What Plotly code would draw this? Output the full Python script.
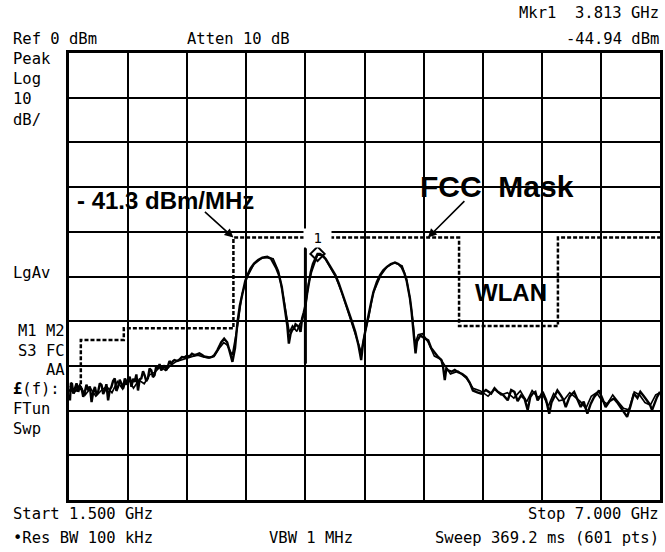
import plotly.graph_objects as go

# ---------------------------------------------------------------------------
# Swept spectrum 1.5 - 7.0 GHz, Ref 0 dBm, 10 dB/div
# ---------------------------------------------------------------------------
f_start, f_stop = 1.5, 7.0
ref_level, db_per_div = 0.0, 10.0

# Trace 1 (peak detector)
trace1_ghz = [
    1.500, 1.509, 1.518, 1.528, 1.540, 1.556, 1.570, 1.586, 1.600, 1.618,
    1.632, 1.648, 1.662, 1.679, 1.694, 1.710, 1.725, 1.741, 1.756, 1.771,
    1.787, 1.803, 1.818, 1.833, 1.848, 1.864, 1.880, 1.895, 1.910, 1.926,
    1.941, 1.956, 1.972, 1.988, 2.003, 2.019, 2.034, 2.049, 2.065, 2.081,
    2.096, 2.111, 2.127, 2.142, 2.158, 2.173, 2.189, 2.204, 2.219, 2.234,
    2.250, 2.266, 2.281, 2.296, 2.312, 2.327, 2.343, 2.358, 2.373, 2.389,
    2.404, 2.419, 2.435, 2.451, 2.466, 2.481, 2.505, 2.528, 2.551, 2.574,
    2.597, 2.620, 2.644, 2.667, 2.690, 2.713, 2.736, 2.759, 2.782, 2.806,
    2.829, 2.852, 2.880, 2.917, 2.944, 2.972, 3.000, 3.021, 3.045, 3.068,
    3.090, 3.114, 3.140, 3.160, 3.190, 3.222, 3.260, 3.299, 3.345, 3.380,
    3.407, 3.430, 3.454, 3.480, 3.500, 3.516, 3.531, 3.546, 3.562, 3.578,
    3.593, 3.608, 3.623, 3.640, 3.655, 3.669, 3.685, 3.701, 3.716, 3.731,
    3.750, 3.770, 3.792, 3.813, 3.835, 3.860, 3.889, 3.915, 3.945, 3.979,
    4.010, 4.040, 4.070, 4.102, 4.135, 4.164, 4.194, 4.219, 4.236, 4.256,
    4.270, 4.287, 4.310, 4.333, 4.365, 4.395, 4.425, 4.456, 4.495, 4.534,
    4.565, 4.595, 4.620, 4.642, 4.660, 4.673, 4.687, 4.697, 4.712, 4.725,
    4.738, 4.750, 4.770, 4.787, 4.815, 4.843, 4.870, 4.905, 4.935, 4.966,
    4.980, 4.997, 5.012, 5.028, 5.060, 5.090, 5.120, 5.160, 5.197, 5.230,
    5.259, 5.300, 5.336, 5.380, 5.429, 5.460, 5.491, 5.540, 5.583, 5.615,
    5.645, 5.675, 5.707, 5.740, 5.769, 5.792, 5.815, 5.840, 5.861, 5.885,
    5.907, 5.940, 5.969, 5.990, 6.016, 6.045, 6.077, 6.100, 6.123, 6.160,
    6.201, 6.230, 6.262, 6.290, 6.324, 6.355, 6.386, 6.410, 6.432, 6.465,
    6.494, 6.530, 6.571, 6.600, 6.632, 6.660, 6.694, 6.725, 6.757, 6.790,
    6.817, 6.850, 6.880, 6.905, 6.926, 6.950, 6.972, 7.000,
]
trace1_dbm = [
    -76.5, -77.7, -73.8, -74.0, -76.2, -75.1, -73.9, -75.8, -74.6, -75.1,
    -76.9, -75.8, -74.2, -75.5, -74.6, -78.1, -75.9, -74.7, -76.4, -75.8,
    -73.9, -74.3, -76.3, -75.5, -74.1, -77.7, -75.3, -74.7, -73.4, -72.8,
    -75.6, -74.7, -73.1, -74.0, -75.1, -72.8, -74.2, -73.6, -72.4, -74.7,
    -72.9, -73.6, -71.9, -75.5, -73.0, -72.8, -71.2, -72.1, -73.4, -72.8,
    -70.6, -71.0, -72.5, -72.1, -70.1, -70.6, -69.6, -71.0, -70.4, -69.9,
    -71.0, -70.2, -68.9, -69.5, -69.0, -68.7, -68.9, -68.6, -68.0, -68.1,
    -67.7, -67.9, -67.3, -67.6, -67.4, -67.2, -67.5, -67.9, -68.0, -68.1,
    -68.0, -67.6, -66.5, -64.7, -63.9, -64.7, -67.2, -69.1, -66.0, -60.2,
    -56.5, -53.5, -51.0, -49.7, -48.2, -47.1, -46.3, -45.8, -45.6, -46.0,
    -47.1, -48.2, -49.7, -52.3, -55.7, -58.2, -60.9, -65.0, -62.8, -61.9,
    -61.7, -60.7, -60.9, -61.3, -62.4, -59.4, -58.0, -56.4, -53.8, -51.5,
    -49.0, -47.2, -45.8, -44.94, -44.95, -45.3, -46.1, -47.1, -48.3, -49.7,
    -51.5, -53.5, -55.6, -57.9, -60.2, -62.4, -65.4, -68.7, -65.0, -62.4,
    -60.5, -58.7, -56.0, -53.5, -51.2, -49.7, -48.6, -47.9, -47.2, -46.9,
    -47.2, -47.9, -49.2, -50.9, -52.8, -54.9, -57.6, -60.2, -64.0, -67.2,
    -64.5, -63.9, -63.2, -63.5, -63.9, -64.3, -66.0, -67.2, -68.0, -68.7,
    -70.0, -73.2, -70.5, -71.0, -71.3, -70.9, -71.4, -71.8, -72.5, -73.8,
    -75.5, -75.9, -76.2, -75.4, -76.2, -75.0, -75.8, -76.5, -77.7, -75.4,
    -75.8, -77.9, -76.6, -77.4, -79.9, -77.0, -76.2, -75.8, -77.7, -76.9,
    -75.8, -77.6, -80.7, -78.2, -77.0, -75.5, -76.6, -77.5, -79.2, -76.8,
    -75.8, -77.5, -79.2, -78.0, -80.7, -78.5, -77.0, -76.3, -75.5, -77.4,
    -79.2, -77.9, -77.3, -78.1, -79.2, -80.1, -81.4, -79.0, -76.2, -77.2,
    -75.8, -76.8, -77.7, -78.6, -79.9, -78.1, -77.0, -75.8,
]

# Trace 2 (average detector)
trace2_ghz = [
    1.51, 1.55, 1.60, 1.65, 1.70, 1.75, 1.80, 1.85, 1.90, 1.95,
    2.00, 2.05, 2.10, 2.15, 2.20, 2.25, 2.30, 2.35, 2.40, 2.45,
    2.50, 2.55, 2.60, 2.65, 2.70, 2.75, 2.80, 2.85, 2.90, 2.94,
    2.97, 3.00, 3.02, 3.07, 3.11, 3.16, 3.22, 3.30, 3.35, 3.40,
    3.45, 3.50, 3.53, 3.55, 3.58, 3.62, 3.65, 3.67, 3.70, 3.73,
    3.76, 3.79, 3.813, 3.85, 3.89, 3.92, 3.98, 4.04, 4.10, 4.16,
    4.19, 4.22, 4.25, 4.29, 4.33, 4.40, 4.46, 4.53, 4.60, 4.64,
    4.67, 4.70, 4.72, 4.75, 4.79, 4.84, 4.90, 4.96, 5.00, 5.05,
    5.12, 5.20, 5.26, 5.33, 5.40, 5.46, 5.52, 5.58, 5.64, 5.70,
    5.76, 5.81, 5.86, 5.91, 5.96, 6.01, 6.06, 6.11, 6.16, 6.21,
    6.26, 6.31, 6.36, 6.41, 6.46, 6.51, 6.56, 6.61, 6.66, 6.71,
    6.76, 6.81, 6.86, 6.91, 6.96, 7.00,
]
trace2_dbm = [
    -74.5, -76.0, -74.2, -76.5, -75.0, -76.8, -75.5, -74.6, -76.0, -73.5,
    -75.2, -72.6, -75.0, -73.2, -74.0, -72.0, -71.4, -70.2, -71.0, -69.8,
    -69.0, -68.6, -68.3, -67.9, -67.6, -68.0, -68.2, -67.9, -66.0, -64.8,
    -65.3, -66.5, -67.6, -60.8, -54.0, -50.0, -47.3, -45.8, -45.8, -46.0,
    -48.8, -55.2, -60.0, -62.5, -61.0, -62.3, -60.5, -60.0, -56.8, -51.5,
    -48.8, -46.5, -45.2, -45.3, -46.2, -47.5, -50.0, -53.7, -58.0, -62.2,
    -64.6, -67.0, -63.0, -59.0, -53.8, -49.8, -47.8, -46.9, -47.6, -50.5,
    -54.5, -59.8, -65.0, -63.0, -62.8, -64.6, -67.8, -68.5, -70.0, -71.8,
    -71.2, -72.8, -75.0, -75.6, -76.8, -75.2, -76.5, -76.0, -77.2, -75.6,
    -78.0, -75.5, -77.0, -76.5, -79.0, -76.2, -77.8, -77.5, -76.0, -77.0,
    -78.0, -79.5, -76.8, -76.0, -77.8, -78.5, -76.5, -78.0, -79.5, -79.8,
    -75.8, -76.5, -78.2, -78.8, -76.5, -76.0,
]

# FCC outdoor UWB emission mask with the 5 GHz WLAN notch
mask_ghz = [1.50, 1.61, 1.61, 2.01, 2.01, 3.03, 3.03, 5.13, 5.13, 6.05, 6.05, 7.00]
mask_dbm = [-75.5, -75.5, -64.2, -64.2, -61.6, -61.6, -41.3, -41.3, -61.1, -61.1, -41.3, -41.3]
mask_level_dbm = -41.3

# Marker 1 readout
mkr_ghz = [3.813]
mkr_dbm = [-44.94]

# Delta cursor bar
bar_ghz = [3.70, 3.70]
bar_dbm = [-43.7, -69.5]

# ---------------------------------------------------------------------------
W, H = 665, 552
ML, MR, MT, MB = 69, 2, 53, 52
MONO = "DejaVu Sans Mono"
SANS = "Liberation Sans, Arial, sans-serif"


def px(x):
    return (x - ML) / (W - ML - MR)


def py(y):
    return 1 - (y - MT) / (H - MT - MB)


fig = go.Figure()

fig.add_trace(go.Scatter(
    x=mask_ghz, y=mask_dbm, mode="lines",
    line=dict(color="black", width=2.5, dash="4px,2px"),
))
fig.add_trace(go.Scatter(
    x=trace2_ghz, y=trace2_dbm, mode="lines",
    line=dict(color="black", width=1.6),
))
fig.add_trace(go.Scatter(
    x=trace1_ghz, y=trace1_dbm, mode="lines",
    line=dict(color="black", width=2.4),
))
fig.add_trace(go.Scatter(
    x=bar_ghz, y=bar_dbm, mode="lines",
    line=dict(color="black", width=3),
))
fig.add_trace(go.Scatter(
    x=mkr_ghz, y=mkr_dbm, mode="markers",
    marker=dict(symbol="diamond-open", size=11, color="black",
                line=dict(color="black", width=2)),
))

annotations = []


def text(t, x, y, xanchor="left", size=15.5, family=MONO, color="black"):
    annotations.append(dict(
        text=t, x=px(x), y=py(y), xref="paper", yref="paper",
        xanchor=xanchor, yanchor="middle", showarrow=False,
        font=dict(family=family, size=size, color=color),
    ))


# instrument header / footer
text("Mkr1\u00a0 3.813 GHz", 664, 13, "right")
text("Ref 0 dBm", 11, 39)
text("Atten 10 dB", 186, 39)
text("-44.94 dBm", 664, 39, "right")
text("Start 1.500 GHz", 11, 514)
text("Stop 7.000 GHz", 664, 514, "right")
text("\u2022Res BW 100 kHz", 11, 538)
text("VBW 1 MHz", 268, 538)
text("Sweep 369.2 ms (601 pts)", 664, 538, "right")

# left-hand status column
text("Peak", 11, 59)
text("Log", 11, 79)
text("10", 11, 99)
text("dB/", 11, 120)
text("LgAv", 11, 273)
text("M1 M2", 67, 331, "right")
text("S3 FC", 67, 351, "right")
text("AA", 67, 370, "right")
text("<b>\u00a3</b>(f):", 11, 389)
text("FTun", 11, 409)
text("Swp", 11, 429)

# overlay labels
text("<b>- 41.3 dBm/MHz</b>", 75, 200, size=24, family=SANS)
text("<b>FCC\u00a0 Mask</b>", 420, 186, size=30, family=SANS)
text("<b>WLAN</b>", 475, 292, size=24, family=SANS)

# marker number sitting on the mask line
annotations.append(dict(
    text="\u00a01\u00a0", x=mkr_ghz[0], y=mask_level_dbm, xref="x", yref="y",
    showarrow=False, bgcolor="white", borderpad=1,
    font=dict(family=MONO, size=14, color="black"),
))

# arrows pointing at the mask
annotations.append(dict(
    text="", x=3.03, y=mask_level_dbm, xref="x", yref="y",
    showarrow=True, ax=-30, ay=-27, arrowhead=2, arrowsize=1.1,
    arrowwidth=1.6, arrowcolor="black", standoff=0,
))
annotations.append(dict(
    text="", x=4.84, y=mask_level_dbm, xref="x", yref="y",
    showarrow=True, ax=38, ay=-38, arrowhead=2, arrowsize=1.1,
    arrowwidth=1.6, arrowcolor="black", standoff=0,
))

fig.update_layout(
    width=W, height=H,
    margin=dict(l=ML, r=MR, t=MT, b=MB, pad=0),
    paper_bgcolor="white", plot_bgcolor="white",
    showlegend=False, hovermode=False,
    annotations=annotations,
    xaxis=dict(
        range=[f_start, f_stop], tick0=f_start, dtick=(f_stop - f_start) / 10,
        showticklabels=False, ticks="", showgrid=True, gridcolor="black",
        gridwidth=2, zeroline=False, showline=True, linecolor="black",
        linewidth=3, mirror=True, fixedrange=True,
    ),
    yaxis=dict(
        range=[ref_level - 10 * db_per_div, ref_level], tick0=ref_level,
        dtick=db_per_div, showticklabels=False, ticks="", showgrid=True,
        gridcolor="black", gridwidth=2, zeroline=False, showline=True,
        linecolor="black", linewidth=3, mirror=True, fixedrange=True,
    ),
)

fig.write_html("out.html")
